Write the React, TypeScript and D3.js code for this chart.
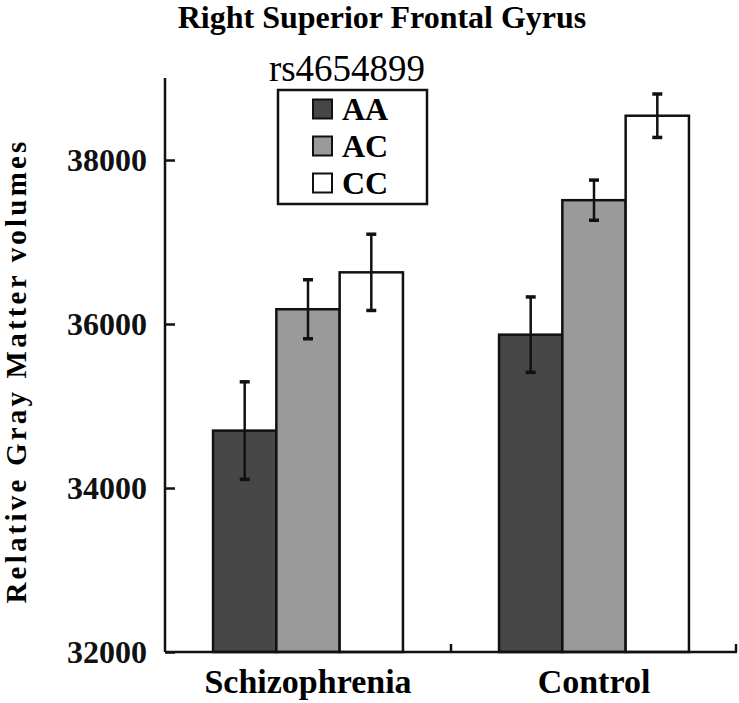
import React, { useEffect, useRef } from 'react';
import * as d3 from 'd3';

// data
const groups = ['Schizophrenia', 'Control'];
const genotypes = ['AA', 'AC', 'CC'];
const schizoMeans = [34700, 36180, 36630];
const schizoErrors = [595, 360, 465];
const controlMeans = [35870, 37510, 38540];
const controlErrors = [460, 245, 265];
const yTicks = [32000, 34000, 36000, 38000];
const fills = ['#474747', '#9a9a9a', '#ffffff'];

const FONT = "'Liberation Serif', 'Times New Roman', serif";

const App: React.FC = () => {
  const ref = useRef<SVGSVGElement>(null);

  useEffect(() => {
    if (!ref.current) return;
    const svg = d3.select(ref.current);
    svg.selectAll('*').remove();

    const width = 739;
    const height = 703;
    const margin = { left: 165, right: 2, top: 78, bottom: 51 };

    const x0 = d3
      .scaleBand<string>()
      .domain(groups)
      .range([margin.left, width - margin.right])
      .paddingInner(0.336)
      .paddingOuter(0.168);
    const x1 = d3.scaleBand<string>().domain(genotypes).range([0, x0.bandwidth()]);
    const y = d3
      .scaleLinear()
      .domain([32000, 39000])
      .range([height - margin.bottom, margin.top]);
    const color = d3.scaleOrdinal<string, string>().domain(genotypes).range(fills);

    const rows = groups.map((g, i) => ({
      group: g,
      means: i === 0 ? schizoMeans : controlMeans,
      errors: i === 0 ? schizoErrors : controlErrors,
    }));

    // title
    svg
      .append('text')
      .attr('x', 382)
      .attr('y', 28)
      .attr('text-anchor', 'middle')
      .style('font-family', FONT)
      .style('font-weight', 'bold')
      .style('font-size', '32px')
      .text('Right Superior Frontal Gyrus');

    // bars
    const g = svg
      .selectAll('g.grp')
      .data(rows)
      .enter()
      .append('g')
      .attr('class', 'grp')
      .attr('transform', d => `translate(${x0(d.group)},0)`);

    g.selectAll('rect')
      .data(d => d.means.map((m, i) => ({ key: genotypes[i], m, e: d.errors[i] })))
      .enter()
      .append('rect')
      .attr('x', d => x1(d.key)!)
      .attr('y', d => y(d.m))
      .attr('width', x1.bandwidth())
      .attr('height', d => y(32000) - y(d.m))
      .attr('fill', d => color(d.key))
      .attr('stroke', '#111')
      .attr('stroke-width', 2.5);

    // error bars
    const eb = g
      .selectAll('g.err')
      .data(d => d.means.map((m, i) => ({ key: genotypes[i], m, e: d.errors[i] })))
      .enter()
      .append('g')
      .attr('class', 'err')
      .attr('stroke', '#111');
    const cx = (k: string) => x1(k)! + x1.bandwidth() / 2;
    eb.append('line')
      .attr('x1', d => cx(d.key))
      .attr('x2', d => cx(d.key))
      .attr('y1', d => y(d.m + d.e))
      .attr('y2', d => y(d.m - d.e))
      .attr('stroke-width', 2.5);
    [1, -1].forEach(s => {
      eb.append('line')
        .attr('x1', d => cx(d.key) - 5)
        .attr('x2', d => cx(d.key) + 5)
        .attr('y1', d => y(d.m + s * d.e))
        .attr('y2', d => y(d.m + s * d.e))
        .attr('stroke-width', 3.5);
    });

    // y axis
    const yAxis = svg
      .append('g')
      .attr('transform', `translate(${margin.left},0)`)
      .call(
        d3
          .axisLeft(y)
          .tickValues(yTicks)
          .tickSize(-10)
          .tickPadding(18)
          .tickFormat(d3.format('d'))
      );
    yAxis.select('.domain').remove();
    yAxis.selectAll('line').attr('stroke', '#111').attr('stroke-width', 2.5);
    yAxis
      .selectAll('text')
      .style('font-family', FONT)
      .style('font-weight', 'bold')
      .style('font-size', '32px')
      .attr('fill', '#111');
    yAxis
      .append('line')
      .attr('x1', 0)
      .attr('x2', 0)
      .attr('y1', y(39000))
      .attr('y2', y(32000))
      .attr('stroke', '#111')
      .attr('stroke-width', 2.5);

    // x axis: line with upward ticks at band boundaries
    const xBase = y(32000);
    svg
      .append('line')
      .attr('x1', margin.left)
      .attr('x2', width - margin.right)
      .attr('y1', xBase)
      .attr('y2', xBase)
      .attr('stroke', '#111')
      .attr('stroke-width', 2.5);
    const step = x0.step();
    svg
      .selectAll('line.xt')
      .data(groups)
      .enter()
      .append('line')
      .attr('class', 'xt')
      .attr('x1', d => Math.min(x0(d)! - step * 0.168 + step, width - margin.right - 1))
      .attr('x2', d => Math.min(x0(d)! - step * 0.168 + step, width - margin.right - 1))
      .attr('y1', xBase)
      .attr('y2', xBase - 8)
      .attr('stroke', '#111')
      .attr('stroke-width', 2.5);
    svg
      .selectAll('text.xl')
      .data(groups)
      .enter()
      .append('text')
      .attr('class', 'xl')
      .attr('x', d => x0(d)! + x0.bandwidth() / 2)
      .attr('y', 693)
      .attr('text-anchor', 'middle')
      .style('font-family', FONT)
      .style('font-weight', 'bold')
      .style('font-size', '34px')
      .text(d => d);

    // y axis label
    svg
      .append('text')
      .attr('transform', `translate(26,${(margin.top + xBase) / 2 + 6}) rotate(-90)`)
      .attr('text-anchor', 'middle')
      .style('font-family', FONT)
      .style('font-weight', 'bold')
      .style('font-size', '29px')
      .style('letter-spacing', '3.2px')
      .text('Relative Gray Matter volumes');

    // legend
    svg
      .append('text')
      .attr('x', 347)
      .attr('y', 81)
      .attr('text-anchor', 'middle')
      .style('font-family', FONT)
      .style('font-size', '37px')
      .text('rs4654899');
    svg
      .append('rect')
      .attr('x', 278)
      .attr('y', 90)
      .attr('width', 149)
      .attr('height', 114)
      .attr('fill', 'white')
      .attr('stroke', '#111')
      .attr('stroke-width', 2.5);
    const lg = svg
      .selectAll('g.lg')
      .data(genotypes)
      .enter()
      .append('g')
      .attr('class', 'lg')
      .attr('transform', (d, i) => `translate(313,${109 + i * 37})`);
    lg.append('rect')
      .attr('x', 0)
      .attr('y', -9.5)
      .attr('width', 19)
      .attr('height', 19)
      .attr('fill', d => color(d))
      .attr('stroke', '#111')
      .attr('stroke-width', 2);
    lg.append('text')
      .attr('x', 29)
      .attr('y', 10.5)
      .style('font-family', FONT)
      .style('font-weight', 'bold')
      .style('font-size', '32px')
      .text(d => d);
  }, []);

  return (
    <svg
      ref={ref}
      width={739}
      height={703}
      style={{ position: 'absolute', left: 0, top: 0, display: 'block' }}
    />
  );
};

export default App;
